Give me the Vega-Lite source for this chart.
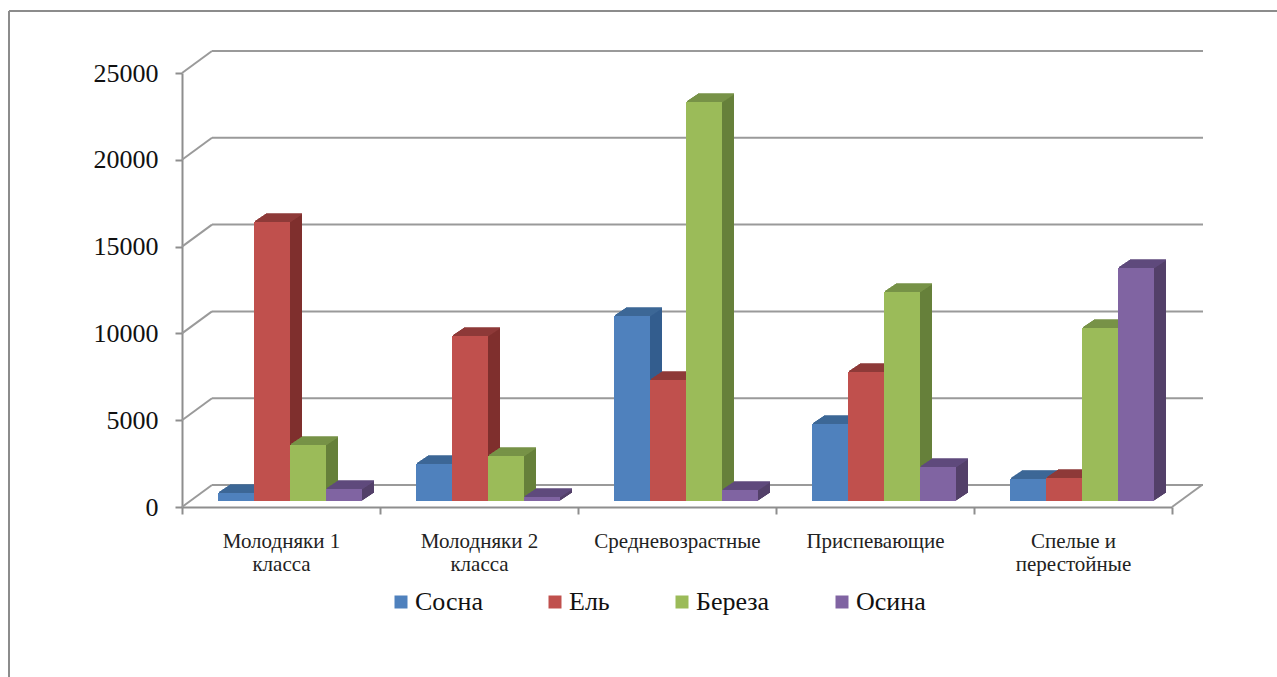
{"$schema":"https://vega.github.io/schema/vega-lite/v6.json","width":990,"height":434,"autosize":{"type":"none"},"padding":{"left":182,"top":73,"right":105,"bottom":170},"background":"white","config":{"view":{"stroke":null},"font":"Liberation Serif"},
"datasets":{"bars":[
{"class":"Молодняки 1 класса","species":"Сосна","volume":460},{"class":"Молодняки 1 класса","species":"Ель","volume":16070},{"class":"Молодняки 1 класса","species":"Береза","volume":3225},{"class":"Молодняки 1 класса","species":"Осина","volume":690},
{"class":"Молодняки 2 класса","species":"Сосна","volume":2130},{"class":"Молодняки 2 класса","species":"Ель","volume":9500},{"class":"Молодняки 2 класса","species":"Береза","volume":2590},{"class":"Молодняки 2 класса","species":"Осина","volume":230},
{"class":"Средневозрастные","species":"Сосна","volume":10650},{"class":"Средневозрастные","species":"Ель","volume":6970},{"class":"Средневозрастные","species":"Береза","volume":22980},{"class":"Средневозрастные","species":"Осина","volume":630},
{"class":"Приспевающие","species":"Сосна","volume":4430},{"class":"Приспевающие","species":"Ель","volume":7430},{"class":"Приспевающие","species":"Береза","volume":12040},{"class":"Приспевающие","species":"Осина","volume":1960},
{"class":"Спелые и перестойные","species":"Сосна","volume":1270},{"class":"Спелые и перестойные","species":"Ель","volume":1320},{"class":"Спелые и перестойные","species":"Береза","volume":9960},{"class":"Спелые и перестойные","species":"Осина","volume":13420}],
"grid":[{"level":0},{"level":5000},{"level":10000},{"level":15000},{"level":20000},{"level":25000}],"floor":[{"level":0}]},
"data":{"name":"bars"},
"encoding":{"x":{"field":"class","type":"nominal","sort":null,"title":null,"scale":{"paddingInner":0,"paddingOuter":0},"axis":{"labelAngle":0,"labelFont":"Liberation Serif","labelFontSize":21,"labelColor":"#222","labelPadding":16,"labelLineHeight":23,"tickBand":"extent","tickColor":"#8e8e8e","tickWidth":2,"tickSize":7,"domainColor":"#8e8e8e","domainWidth":2,"labelExpr":"lastindexof(datum.label,' ')>0 ? [substring(datum.label,0,lastindexof(datum.label,' ')), substring(datum.label,lastindexof(datum.label,' ')+1)] : datum.label"}},
"y":{"field":"volume","type":"quantitative","title":null,"scale":{"domain":[0,25000],"nice":false},"axis":{"values":[0,5000,10000,15000,20000,25000],"format":"d","grid":false,"labelFont":"Liberation Serif","labelFontSize":26,"labelColor":"#111","labelPadding":17,"tickColor":"#8e8e8e","tickWidth":2,"tickSize":7,"domainColor":"#8e8e8e","domainWidth":2}}},
"resolve":{"scale":{"color":"independent","xOffset":"independent"}},
"layer":[
{"data":{"name":"grid"},"mark":{"type":"rule","color":"#9a9a9a","strokeWidth":2},"encoding":{"x":{"value":30},"x2":{"value":1021},"y":{"field":"level","type":"quantitative"},"yOffset":{"value":-22}}},
{"data":{"name":"grid"},"mark":{"type":"point","shape":"M-1,0.733L1,-0.733","size":900,"filled":false,"color":"#9a9a9a","strokeWidth":2,"opacity":1},"encoding":{"x":{"value":15},"y":{"field":"level","type":"quantitative"},"yOffset":{"value":-11}}},
{"data":{"name":"floor"},"mark":{"type":"point","shape":"M-1,0.733L1,-0.733","size":900,"filled":false,"color":"#9a9a9a","strokeWidth":2,"opacity":1},"encoding":{"x":{"value":1005},"y":{"field":"level","type":"quantitative"},"yOffset":{"value":-11}}},
{"data":{"name":"floor"},"mark":{"type":"rule","color":"#8c8c8c","strokeWidth":2},"encoding":{"x":{"value":-173},"y":{"value":-62},"y2":{"value":604}}},
{"data":{"name":"floor"},"mark":{"type":"rule","color":"#8c8c8c","strokeWidth":2},"encoding":{"x":{"value":-173},"x2":{"value":1095},"y":{"value":-62}}},
{"mark":{"type":"bar","yOffset":-14,"y2Offset":-14},"encoding":{"xOffset":{"field":"species","type":"nominal","sort":null,"scale":{"domain":["Сосна","Ель","Береза","Осина"],"range":[48,192],"paddingInner":0,"paddingOuter":0}},"color":{"field":"species","type":"nominal","legend":null,"scale":{"domain":["Сосна","Ель","Береза","Осина"],"range":["#335d8e","#7f2f2d","#66803a","#534069"]}}}},
{"mark":{"type":"tick","size":36,"thickness":1.5,"opacity":1,"yOffset":-14},"encoding":{"xOffset":{"field":"species","type":"nominal","sort":null,"scale":{"domain":["Сосна","Ель","Береза","Осина"],"range":[48,192],"paddingInner":0,"paddingOuter":0}},"color":{"field":"species","type":"nominal","legend":null,"scale":{"domain":["Сосна","Ель","Береза","Осина"],"range":["#3d6796","#8e3a38","#779247","#5f4a7c"]}}}},
{"mark":{"type":"bar","yOffset":-13.33,"y2Offset":-13.33},"encoding":{"xOffset":{"field":"species","type":"nominal","sort":null,"scale":{"domain":["Сосна","Ель","Береза","Осина"],"range":[47,191],"paddingInner":0,"paddingOuter":0}},"color":{"field":"species","type":"nominal","legend":null,"scale":{"domain":["Сосна","Ель","Береза","Осина"],"range":["#335d8e","#7f2f2d","#66803a","#534069"]}}}},
{"mark":{"type":"tick","size":36,"thickness":1.5,"opacity":1,"yOffset":-13.33},"encoding":{"xOffset":{"field":"species","type":"nominal","sort":null,"scale":{"domain":["Сосна","Ель","Береза","Осина"],"range":[47,191],"paddingInner":0,"paddingOuter":0}},"color":{"field":"species","type":"nominal","legend":null,"scale":{"domain":["Сосна","Ель","Береза","Осина"],"range":["#3d6796","#8e3a38","#779247","#5f4a7c"]}}}},
{"mark":{"type":"bar","yOffset":-12.67,"y2Offset":-12.67},"encoding":{"xOffset":{"field":"species","type":"nominal","sort":null,"scale":{"domain":["Сосна","Ель","Береза","Осина"],"range":[46,190],"paddingInner":0,"paddingOuter":0}},"color":{"field":"species","type":"nominal","legend":null,"scale":{"domain":["Сосна","Ель","Береза","Осина"],"range":["#335d8e","#7f2f2d","#66803a","#534069"]}}}},
{"mark":{"type":"tick","size":36,"thickness":1.5,"opacity":1,"yOffset":-12.67},"encoding":{"xOffset":{"field":"species","type":"nominal","sort":null,"scale":{"domain":["Сосна","Ель","Береза","Осина"],"range":[46,190],"paddingInner":0,"paddingOuter":0}},"color":{"field":"species","type":"nominal","legend":null,"scale":{"domain":["Сосна","Ель","Береза","Осина"],"range":["#3d6796","#8e3a38","#779247","#5f4a7c"]}}}},
{"mark":{"type":"bar","yOffset":-12,"y2Offset":-12},"encoding":{"xOffset":{"field":"species","type":"nominal","sort":null,"scale":{"domain":["Сосна","Ель","Береза","Осина"],"range":[45,189],"paddingInner":0,"paddingOuter":0}},"color":{"field":"species","type":"nominal","legend":null,"scale":{"domain":["Сосна","Ель","Береза","Осина"],"range":["#335d8e","#7f2f2d","#66803a","#534069"]}}}},
{"mark":{"type":"tick","size":36,"thickness":1.5,"opacity":1,"yOffset":-12},"encoding":{"xOffset":{"field":"species","type":"nominal","sort":null,"scale":{"domain":["Сосна","Ель","Береза","Осина"],"range":[45,189],"paddingInner":0,"paddingOuter":0}},"color":{"field":"species","type":"nominal","legend":null,"scale":{"domain":["Сосна","Ель","Береза","Осина"],"range":["#3d6796","#8e3a38","#779247","#5f4a7c"]}}}},
{"mark":{"type":"bar","yOffset":-11.33,"y2Offset":-11.33},"encoding":{"xOffset":{"field":"species","type":"nominal","sort":null,"scale":{"domain":["Сосна","Ель","Береза","Осина"],"range":[44,188],"paddingInner":0,"paddingOuter":0}},"color":{"field":"species","type":"nominal","legend":null,"scale":{"domain":["Сосна","Ель","Береза","Осина"],"range":["#335d8e","#7f2f2d","#66803a","#534069"]}}}},
{"mark":{"type":"tick","size":36,"thickness":1.5,"opacity":1,"yOffset":-11.33},"encoding":{"xOffset":{"field":"species","type":"nominal","sort":null,"scale":{"domain":["Сосна","Ель","Береза","Осина"],"range":[44,188],"paddingInner":0,"paddingOuter":0}},"color":{"field":"species","type":"nominal","legend":null,"scale":{"domain":["Сосна","Ель","Береза","Осина"],"range":["#3d6796","#8e3a38","#779247","#5f4a7c"]}}}},
{"mark":{"type":"bar","yOffset":-10.67,"y2Offset":-10.67},"encoding":{"xOffset":{"field":"species","type":"nominal","sort":null,"scale":{"domain":["Сосна","Ель","Береза","Осина"],"range":[43,187],"paddingInner":0,"paddingOuter":0}},"color":{"field":"species","type":"nominal","legend":null,"scale":{"domain":["Сосна","Ель","Береза","Осина"],"range":["#335d8e","#7f2f2d","#66803a","#534069"]}}}},
{"mark":{"type":"tick","size":36,"thickness":1.5,"opacity":1,"yOffset":-10.67},"encoding":{"xOffset":{"field":"species","type":"nominal","sort":null,"scale":{"domain":["Сосна","Ель","Береза","Осина"],"range":[43,187],"paddingInner":0,"paddingOuter":0}},"color":{"field":"species","type":"nominal","legend":null,"scale":{"domain":["Сосна","Ель","Береза","Осина"],"range":["#3d6796","#8e3a38","#779247","#5f4a7c"]}}}},
{"mark":{"type":"bar","yOffset":-10,"y2Offset":-10},"encoding":{"xOffset":{"field":"species","type":"nominal","sort":null,"scale":{"domain":["Сосна","Ель","Береза","Осина"],"range":[42,186],"paddingInner":0,"paddingOuter":0}},"color":{"field":"species","type":"nominal","legend":null,"scale":{"domain":["Сосна","Ель","Береза","Осина"],"range":["#335d8e","#7f2f2d","#66803a","#534069"]}}}},
{"mark":{"type":"tick","size":36,"thickness":1.5,"opacity":1,"yOffset":-10},"encoding":{"xOffset":{"field":"species","type":"nominal","sort":null,"scale":{"domain":["Сосна","Ель","Береза","Осина"],"range":[42,186],"paddingInner":0,"paddingOuter":0}},"color":{"field":"species","type":"nominal","legend":null,"scale":{"domain":["Сосна","Ель","Береза","Осина"],"range":["#3d6796","#8e3a38","#779247","#5f4a7c"]}}}},
{"mark":{"type":"bar","yOffset":-9.33,"y2Offset":-9.33},"encoding":{"xOffset":{"field":"species","type":"nominal","sort":null,"scale":{"domain":["Сосна","Ель","Береза","Осина"],"range":[41,185],"paddingInner":0,"paddingOuter":0}},"color":{"field":"species","type":"nominal","legend":null,"scale":{"domain":["Сосна","Ель","Береза","Осина"],"range":["#335d8e","#7f2f2d","#66803a","#534069"]}}}},
{"mark":{"type":"tick","size":36,"thickness":1.5,"opacity":1,"yOffset":-9.33},"encoding":{"xOffset":{"field":"species","type":"nominal","sort":null,"scale":{"domain":["Сосна","Ель","Береза","Осина"],"range":[41,185],"paddingInner":0,"paddingOuter":0}},"color":{"field":"species","type":"nominal","legend":null,"scale":{"domain":["Сосна","Ель","Береза","Осина"],"range":["#3d6796","#8e3a38","#779247","#5f4a7c"]}}}},
{"mark":{"type":"bar","yOffset":-8.67,"y2Offset":-8.67},"encoding":{"xOffset":{"field":"species","type":"nominal","sort":null,"scale":{"domain":["Сосна","Ель","Береза","Осина"],"range":[40,184],"paddingInner":0,"paddingOuter":0}},"color":{"field":"species","type":"nominal","legend":null,"scale":{"domain":["Сосна","Ель","Береза","Осина"],"range":["#335d8e","#7f2f2d","#66803a","#534069"]}}}},
{"mark":{"type":"tick","size":36,"thickness":1.5,"opacity":1,"yOffset":-8.67},"encoding":{"xOffset":{"field":"species","type":"nominal","sort":null,"scale":{"domain":["Сосна","Ель","Береза","Осина"],"range":[40,184],"paddingInner":0,"paddingOuter":0}},"color":{"field":"species","type":"nominal","legend":null,"scale":{"domain":["Сосна","Ель","Береза","Осина"],"range":["#3d6796","#8e3a38","#779247","#5f4a7c"]}}}},
{"mark":{"type":"bar","yOffset":-8,"y2Offset":-8},"encoding":{"xOffset":{"field":"species","type":"nominal","sort":null,"scale":{"domain":["Сосна","Ель","Береза","Осина"],"range":[39,183],"paddingInner":0,"paddingOuter":0}},"color":{"field":"species","type":"nominal","legend":null,"scale":{"domain":["Сосна","Ель","Береза","Осина"],"range":["#335d8e","#7f2f2d","#66803a","#534069"]}}}},
{"mark":{"type":"tick","size":36,"thickness":1.5,"opacity":1,"yOffset":-8},"encoding":{"xOffset":{"field":"species","type":"nominal","sort":null,"scale":{"domain":["Сосна","Ель","Береза","Осина"],"range":[39,183],"paddingInner":0,"paddingOuter":0}},"color":{"field":"species","type":"nominal","legend":null,"scale":{"domain":["Сосна","Ель","Береза","Осина"],"range":["#3d6796","#8e3a38","#779247","#5f4a7c"]}}}},
{"mark":{"type":"bar","yOffset":-7.33,"y2Offset":-7.33},"encoding":{"xOffset":{"field":"species","type":"nominal","sort":null,"scale":{"domain":["Сосна","Ель","Береза","Осина"],"range":[38,182],"paddingInner":0,"paddingOuter":0}},"color":{"field":"species","type":"nominal","legend":null,"scale":{"domain":["Сосна","Ель","Береза","Осина"],"range":["#335d8e","#7f2f2d","#66803a","#534069"]}}}},
{"mark":{"type":"tick","size":36,"thickness":1.5,"opacity":1,"yOffset":-7.33},"encoding":{"xOffset":{"field":"species","type":"nominal","sort":null,"scale":{"domain":["Сосна","Ель","Береза","Осина"],"range":[38,182],"paddingInner":0,"paddingOuter":0}},"color":{"field":"species","type":"nominal","legend":null,"scale":{"domain":["Сосна","Ель","Береза","Осина"],"range":["#3d6796","#8e3a38","#779247","#5f4a7c"]}}}},
{"mark":{"type":"bar","yOffset":-6.67,"y2Offset":-6.67},"encoding":{"xOffset":{"field":"species","type":"nominal","sort":null,"scale":{"domain":["Сосна","Ель","Береза","Осина"],"range":[37,181],"paddingInner":0,"paddingOuter":0}},"color":{"field":"species","type":"nominal","legend":null,"scale":{"domain":["Сосна","Ель","Береза","Осина"],"range":["#335d8e","#7f2f2d","#66803a","#534069"]}}}},
{"mark":{"type":"tick","size":36,"thickness":1.5,"opacity":1,"yOffset":-6.67},"encoding":{"xOffset":{"field":"species","type":"nominal","sort":null,"scale":{"domain":["Сосна","Ель","Береза","Осина"],"range":[37,181],"paddingInner":0,"paddingOuter":0}},"color":{"field":"species","type":"nominal","legend":null,"scale":{"domain":["Сосна","Ель","Береза","Осина"],"range":["#3d6796","#8e3a38","#779247","#5f4a7c"]}}}},
{"mark":{"type":"bar","yOffset":-6,"y2Offset":-6},"encoding":{"xOffset":{"field":"species","type":"nominal","sort":null,"scale":{"domain":["Сосна","Ель","Береза","Осина"],"range":[36,180],"paddingInner":0,"paddingOuter":0}},"color":{"field":"species","type":"nominal","title":null,"scale":{"domain":["Сосна","Ель","Береза","Осина"],"range":["#4f81bd","#c0504d","#9bbb59","#8064a2"]},"legend":{"orient":"none","legendX":206,"legendY":516,"direction":"horizontal","columns":4,"columnPadding":59,"symbolType":"square","symbolSize":169,"symbolStrokeWidth":0,"symbolOpacity":1,"labelFont":"Liberation Serif","labelFontSize":26,"labelColor":"#111","labelOffset":1}}}}
]}
